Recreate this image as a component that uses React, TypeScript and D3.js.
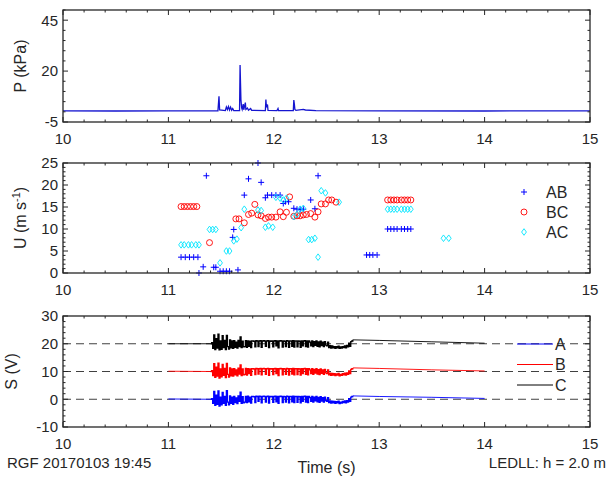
import { useEffect, useRef } from 'react';
import * as d3 from 'd3';

const W = 613;
const H = 480;
const FONT = '"Liberation Sans", Arial, sans-serif';

// pressure trace, [time s, kPa]
const pressure: [number, number][] = [
  [10.0, 0.5], [10.5, 0.4], [11.0, 0.5], [11.47, 0.5], [11.48, 7.6], [11.486, 0.9],
  [11.54, 0.6], [11.55, 2.4], [11.56, 1.1], [11.57, 2.6], [11.58, 0.9], [11.59, 2.3],
  [11.6, 0.8], [11.61, 1.6], [11.62, 0.6], [11.675, 0.6], [11.68, 23.0], [11.684, 14.5],
  [11.688, 6.0], [11.695, 2.0], [11.7, 1.2], [11.71, 3.8], [11.715, 1.0], [11.73, 4.5],
  [11.735, 1.2], [11.75, 1.9], [11.76, 0.8], [11.78, 1.6], [11.79, 0.7], [11.92, 0.6],
  [11.925, 6.0], [11.93, 2.2], [11.94, 3.6], [11.945, 0.7], [12.03, 0.6], [12.04, 1.6],
  [12.045, 0.6], [12.185, 0.6], [12.19, 5.8], [12.195, 3.8], [12.2, 1.2], [12.21, 0.7],
  [12.28, 1.2], [12.3, 0.9], [12.4, 0.6], [13.0, 0.5], [14.0, 0.4], [15.0, 0.5],
];

// propagation speeds, [time s, m/s]
const speedAB: [number, number][] = [
  [11.12, 3.6], [11.16, 3.6], [11.2, 3.6], [11.24, 3.6], [11.28, 3.6], [11.29, 0.0],
  [11.33, 1.4], [11.36, 22.1], [11.43, 1.3], [11.45, 1.3], [11.49, 0.4], [11.52, 0.4],
  [11.55, 0.4], [11.58, 0.4], [11.61, 8.1], [11.62, 9.9], [11.66, 0.7], [11.72, 17.7],
  [11.76, 21.4], [11.85, 25.0], [11.88, 20.6], [11.92, 17.1], [11.94, 17.7], [11.98, 17.7],
  [12.02, 17.7], [12.06, 17.7], [12.09, 15.8], [12.11, 16.2], [12.14, 16.2], [12.19, 14.7],
  [12.22, 14.5], [12.25, 14.5], [12.28, 14.5], [12.35, 16.6], [12.39, 14.6], [12.42, 22.1],
  [12.88, 4.1], [12.91, 4.1], [12.94, 4.1], [12.98, 4.1], [13.08, 10.0], [13.11, 10.0],
  [13.14, 10.0], [13.17, 10.0], [13.21, 10.0], [13.24, 10.0], [13.27, 10.0], [13.3, 10.0],
];

const speedBC: [number, number][] = [
  [11.12, 15.1], [11.15, 15.1], [11.18, 15.1], [11.21, 15.1], [11.24, 15.1], [11.27, 15.1],
  [11.39, 6.9], [11.64, 12.3], [11.67, 12.3], [11.72, 11.4], [11.76, 13.3], [11.79, 13.6],
  [11.82, 15.6], [11.85, 13.2], [11.88, 13.0], [11.92, 12.4], [11.95, 12.7], [11.98, 12.7],
  [12.02, 12.7], [12.06, 13.9], [12.09, 12.8], [12.12, 13.8], [12.15, 17.3], [12.19, 12.9],
  [12.22, 13.0], [12.25, 13.0], [12.28, 13.2], [12.31, 13.3], [12.35, 13.5], [12.39, 12.7],
  [12.42, 13.9], [12.45, 15.7], [12.49, 15.7], [12.52, 16.6], [12.55, 16.6], [12.59, 16.1],
  [13.08, 16.6], [13.11, 16.6], [13.14, 16.6], [13.17, 16.6], [13.21, 16.6], [13.24, 16.6],
  [13.27, 16.6], [13.3, 16.6],
];

const speedAC: [number, number][] = [
  [11.12, 6.4], [11.15, 6.4], [11.19, 6.4], [11.22, 6.4], [11.26, 6.4], [11.29, 6.4],
  [11.39, 9.9], [11.42, 9.9], [11.45, 9.9], [11.49, 2.3], [11.55, 5.0], [11.58, 5.0],
  [11.62, 7.3], [11.65, 7.7], [11.69, 10.3], [11.72, 14.5], [11.85, 14.3], [11.88, 14.2],
  [11.92, 10.4], [11.95, 10.7], [11.99, 10.4], [12.02, 17.2], [12.06, 17.0], [12.09, 16.6],
  [12.12, 17.0], [12.19, 12.8], [12.22, 13.3], [12.25, 14.5], [12.28, 14.7], [12.33, 7.6],
  [12.36, 7.6], [12.39, 7.9], [12.42, 3.6], [12.45, 18.7], [12.49, 18.2], [12.62, 16.1],
  [13.08, 14.5], [13.11, 14.5], [13.14, 14.5], [13.17, 14.5], [13.21, 14.5], [13.24, 14.5],
  [13.27, 14.5], [13.3, 14.5], [13.61, 7.9], [13.66, 7.9],
];

// sensor voltages: quiet lead-in, burst sampled every 10 ms from 11.40 s, slow tail
const burstStart = 11.4;
const burstStep = 0.01;

const leadA: [number, number][] = [[11.0, 0.1]];
const burstA = [
  0, 0.2, -1.5, 2.8, -2.2, 1.5, -1.8, 3.0, -2.5, 0.8,
  -2.0, 2.5, -1.5, 1.0, -2.2, 3.1, -1.0, -2.0, 1.2, -1.5,
  0.8, -1.8, 1.0, -1.2, 0.5, -1.6, 1.2, -0.8, 2.6, -1.5,
  0.9, -1.3, -1.0, 1.0, -1.2, 1.1, -0.9, 0.8, -1.4, 1.0,
  1.0, 0.9, -1.2, 1.1, 1.0, -0.8, 1.1, 1.0, -1.3, 1.0,
  1.1, 1.0, -1.0, 1.0, 1.1, -1.4, 1.0, 0.9, 1.0, -1.1,
  1.0, 1.1, -0.9, 1.0, -1.5, 1.0, 1.1, 1.0, -1.2, 1.0,
  0.9, -1.0, 1.1, 1.0, -1.3, 1.0, 1.0, -0.9, 1.1, -1.2,
  1.0, 1.0, -1.1, 1.0, 0.9, -1.3, 1.0, -0.8, 1.0, 1.1,
  -1.0, 1.0, -1.2, 1.0, 0.6, -0.8, 1.0, -1.0, 0.8, -0.6,
  1.0, -0.9, 0.7, -1.1, 0.9, -0.7, 0.6, -1.0, 0.8, -0.5,
  -0.8, 0.6, -1.2, -0.6, -1.4, -0.7, -1.3, -0.8, -1.5, -0.9,
  -1.3, -0.7, -1.6, -1.0, -1.4, -0.8, -1.2, -0.6, -1.3, -0.5,
  -1.0, 0.2, -0.8, 0.8, 1.0, 1.3,
];
const tailA: [number, number][] = [[12.76, 1.2], [13.0, 1.0], [13.5, 0.7], [14.0, 0.3]];

const leadB: [number, number][] = [[11.0, 10.1]];
const burstB = [
  10.0, 10.3, 8.5, 12.8, 7.9, 11.6, 8.3, 13.0, 7.6, 10.9,
  8.1, 12.6, 8.6, 11.1, 7.8, 12.9, 9.0, 8.0, 11.3, 8.4,
  10.9, 8.3, 11.0, 8.8, 10.6, 8.4, 11.2, 9.1, 12.4, 8.5,
  10.9, 8.8, 9.0, 11.1, 8.7, 11.0, 9.2, 10.9, 8.6, 11.0,
  11.0, 10.9, 8.9, 11.1, 11.0, 9.1, 11.0, 11.1, 8.8, 11.0,
  11.1, 11.0, 9.0, 11.0, 11.1, 8.6, 11.0, 10.9, 11.0, 8.9,
  11.0, 11.1, 9.2, 11.0, 8.5, 11.0, 11.1, 11.0, 8.8, 11.0,
  10.9, 9.0, 11.1, 11.0, 8.7, 11.0, 11.0, 9.1, 11.1, 8.8,
  11.0, 11.0, 8.9, 11.0, 10.9, 8.7, 11.0, 9.2, 11.0, 11.1,
  9.0, 11.0, 8.8, 11.0, 10.6, 9.2, 11.0, 9.0, 10.8, 9.4,
  11.0, 9.1, 10.7, 8.9, 10.9, 9.3, 10.6, 9.0, 10.8, 9.5,
  9.2, 10.6, 8.8, 9.4, 8.6, 9.3, 8.7, 9.2, 8.5, 9.1,
  8.7, 9.3, 8.4, 9.0, 8.6, 9.2, 8.8, 9.4, 8.7, 9.5,
  9.0, 10.2, 9.2, 10.8, 11.0, 11.3,
];
const tailB: [number, number][] = [[12.76, 11.3], [13.0, 11.1], [13.5, 10.6], [14.0, 10.2]];

const leadC: [number, number][] = [[11.0, 20.0]];
const burstC = [
  20.0, 20.4, 18.3, 23.2, 17.9, 21.8, 18.4, 23.5, 17.8, 21.0,
  18.0, 22.9, 18.6, 21.2, 17.9, 23.0, 19.0, 18.1, 21.4, 18.5,
  21.0, 18.3, 21.1, 18.7, 20.6, 18.4, 21.2, 19.0, 22.5, 18.6,
  20.9, 18.9, 19.0, 21.1, 18.7, 21.0, 19.1, 20.9, 18.6, 21.0,
  21.0, 20.9, 18.9, 21.1, 21.0, 19.0, 21.0, 21.1, 18.7, 21.0,
  21.1, 21.0, 19.1, 21.0, 21.1, 18.6, 21.0, 20.9, 21.0, 18.9,
  21.0, 21.1, 19.2, 21.0, 18.5, 21.0, 21.1, 21.0, 18.8, 21.0,
  20.9, 19.0, 21.1, 21.0, 18.7, 21.0, 21.0, 19.1, 21.1, 18.8,
  21.0, 21.0, 18.9, 21.0, 20.9, 18.7, 21.0, 19.2, 21.0, 21.1,
  19.0, 21.0, 18.8, 21.0, 20.6, 19.2, 21.0, 19.0, 20.8, 19.4,
  21.0, 19.1, 20.7, 18.9, 20.9, 19.3, 20.6, 19.0, 20.8, 19.5,
  19.2, 20.6, 18.6, 19.3, 18.4, 19.2, 18.5, 19.0, 18.3, 19.0,
  18.5, 19.1, 18.3, 18.9, 18.4, 19.0, 18.6, 19.2, 18.5, 19.4,
  18.9, 20.2, 19.1, 20.8, 21.0, 21.4,
];
const tailC: [number, number][] = [[12.76, 21.4], [13.0, 21.2], [13.5, 20.7], [14.0, 20.2]];

const timeTicks = [10, 11, 12, 13, 14, 15];
const pTicks = [-5, 20, 45];
const uTicks = [0, 5, 10, 15, 20, 25];
const sTicks = [-10, 0, 10, 20, 30];
const sRefLevels = [0, 10, 20];

const X0 = 63;
const X1 = 590;

function burstPoints(burst: number[]) {
  return burst.map((v, i) => [burstStart + i * burstStep, v] as [number, number]);
}

function drawFrame(g: any, x: any, y: any, yTicks: number[], yMinorStep: number) {
  const [yb, yt] = y.range();
  const [ymin, ymax] = y.domain();
  const axisColor = '#262626';

  // x ticks, minor every 0.2 s, on top and bottom
  for (let i = 0; i <= 25; i++) {
    const t = 10 + i * 0.2;
    const len = i % 5 === 0 ? 5 : 2.5;
    g.append('line').attr('x1', x(t)).attr('x2', x(t)).attr('y1', yb).attr('y2', yb - len)
      .attr('stroke', axisColor).attr('stroke-width', 1);
    g.append('line').attr('x1', x(t)).attr('x2', x(t)).attr('y1', yt).attr('y2', yt + len)
      .attr('stroke', axisColor).attr('stroke-width', 1);
  }
  // y ticks, left and right
  const nMinor = Math.round((ymax - ymin) / yMinorStep);
  for (let i = 0; i <= nMinor; i++) {
    const v = ymin + i * yMinorStep;
    const major = yTicks.some((t) => Math.abs(t - v) < 1e-6);
    const len = major ? 5 : 2.5;
    g.append('line').attr('x1', X0).attr('x2', X0 + len).attr('y1', y(v)).attr('y2', y(v))
      .attr('stroke', axisColor).attr('stroke-width', 1);
    g.append('line').attr('x1', X1).attr('x2', X1 - len).attr('y1', y(v)).attr('y2', y(v))
      .attr('stroke', axisColor).attr('stroke-width', 1);
  }

  g.append('rect').attr('x', X0).attr('y', yt).attr('width', X1 - X0).attr('height', yb - yt)
    .attr('fill', 'none').attr('stroke', axisColor).attr('stroke-width', 1.3);

  g.selectAll(null).data(timeTicks).enter().append('text')
    .attr('x', (d: number) => x(d)).attr('y', yb + 22)
    .attr('text-anchor', 'middle').attr('font-size', 15).attr('fill', '#262626')
    .text((d: number) => d);

  g.selectAll(null).data(yTicks).enter().append('text')
    .attr('x', X0 - 5).attr('y', (d: number) => y(d)).attr('dy', '0.36em')
    .attr('text-anchor', 'end').attr('font-size', 15).attr('fill', '#262626')
    .text((d: number) => d);
}

function App() {
  const svgRef = useRef<SVGSVGElement | null>(null);

  useEffect(() => {
    document.body.style.margin = '0';
    if (!svgRef.current) return;
    const svg = d3.select(svgRef.current);
    svg.selectAll('*').remove();
    svg.attr('font-family', FONT);

    const x = d3.scaleLinear().domain([10, 15]).range([X0, X1]);

    // ---- pressure panel
    const yP = d3.scaleLinear().domain([-5, 50]).range([122, 10]);
    const gP = svg.append('g');
    gP.append('path').datum(pressure)
      .attr('d', d3.line<[number, number]>().x((d) => x(d[0])).y((d) => yP(d[1])))
      .attr('fill', 'none').attr('stroke', '#1515d0').attr('stroke-width', 1.3);
    drawFrame(gP, x, yP, pTicks, 5);
    gP.append('text').attr('transform', `translate(26,${(10 + 122) / 2}) rotate(-90)`)
      .attr('text-anchor', 'middle').attr('font-size', 16).attr('fill', '#262626')
      .text('P (kPa)');

    // ---- speed panel
    const yU = d3.scaleLinear().domain([0, 25]).range([273, 163]);
    const gU = svg.append('g');
    const plus = (g: any, px: number, py: number) => {
      g.append('path').attr('d', `M${px - 3},${py}H${px + 3}M${px},${py - 3}V${py + 3}`)
        .attr('stroke', '#0000ff').attr('stroke-width', 1).attr('fill', 'none');
    };
    const ring = (g: any, px: number, py: number) => {
      g.append('circle').attr('cx', px).attr('cy', py).attr('r', 3)
        .attr('fill', 'none').attr('stroke', '#ff0000').attr('stroke-width', 0.9);
    };
    const diamond = (g: any, px: number, py: number) => {
      g.append('path').attr('d', `M${px},${py - 3.3}L${px + 2.4},${py}L${px},${py + 3.3}L${px - 2.4},${py}Z`)
        .attr('stroke', '#00e5ff').attr('stroke-width', 0.9).attr('fill', 'none');
    };
    speedAB.forEach((d) => plus(gU, x(d[0]), yU(d[1])));
    speedBC.forEach((d) => ring(gU, x(d[0]), yU(d[1])));
    speedAC.forEach((d) => diamond(gU, x(d[0]), yU(d[1])));
    drawFrame(gU, x, yU, uTicks, 1);
    const uLabel = gU.append('text').attr('transform', `translate(26,${(163 + 273) / 2}) rotate(-90)`)
      .attr('text-anchor', 'middle').attr('font-size', 16).attr('fill', '#262626');
    uLabel.append('tspan').text('U (m s');
    uLabel.append('tspan').attr('font-size', 11).attr('dy', -6).text('-1');
    uLabel.append('tspan').attr('dy', 6).text(')');

    const legU = [
      { name: 'AB', draw: plus },
      { name: 'BC', draw: ring },
      { name: 'AC', draw: diamond },
    ];
    legU.forEach((item, i) => {
      const ly = 192 + i * 20;
      item.draw(gU, 524, ly);
      gU.append('text').attr('x', 546).attr('y', ly).attr('dy', '0.36em')
        .attr('font-size', 16).attr('fill', '#262626').text(item.name);
    });

    // ---- sensor panel
    const yS = d3.scaleLinear().domain([-10, 30]).range([427, 316]);
    const gS = svg.append('g');
    gS.selectAll(null).data(sRefLevels).enter().append('line')
      .attr('x1', X0).attr('x2', X1).attr('y1', (d) => yS(d)).attr('y2', (d) => yS(d))
      .attr('stroke', '#404040').attr('stroke-width', 1).attr('stroke-dasharray', '8,5');
    const sLine = d3.line<[number, number]>().x((d) => x(d[0])).y((d) => yS(d[1]));
    const sStep = d3.line<[number, number]>().x((d) => x(d[0])).y((d) => yS(d[1])).curve(d3.curveStepAfter);
    const traces = [
      { name: 'A', color: '#0000ff', lead: leadA, burst: burstA, tail: tailA },
      { name: 'B', color: '#ff0000', lead: leadB, burst: burstB, tail: tailB },
      { name: 'C', color: '#000000', lead: leadC, burst: burstC, tail: tailC },
    ];
    traces.forEach((tr) => {
      const mid = burstPoints(tr.burst);
      gS.append('path').datum([...tr.lead, mid[0]]).attr('d', sLine)
        .attr('fill', 'none').attr('stroke', tr.color).attr('stroke-width', 0.9);
      gS.append('path').datum(mid).attr('d', sStep)
        .attr('fill', 'none').attr('stroke', tr.color).attr('stroke-width', 1.3);
      gS.append('path').datum([mid[mid.length - 1], ...tr.tail]).attr('d', sLine)
        .attr('fill', 'none').attr('stroke', tr.color).attr('stroke-width', 0.9);
    });
    drawFrame(gS, x, yS, sTicks, 2);
    gS.append('text').attr('transform', `translate(17,${(316 + 427) / 2}) rotate(-90)`)
      .attr('text-anchor', 'middle').attr('font-size', 16).attr('fill', '#262626')
      .text('S (V)');
    traces.forEach((tr, i) => {
      const ly = 344 + i * 20.5;
      gS.append('line').attr('x1', 517).attr('x2', 553).attr('y1', ly).attr('y2', ly)
        .attr('stroke', tr.color).attr('stroke-width', 1);
      gS.append('text').attr('x', 555).attr('y', ly).attr('dy', '0.36em')
        .attr('font-size', 16).attr('fill', '#262626').text(tr.name);
    });

    // ---- footer texts
    svg.append('text').attr('x', 7).attr('y', 468).attr('font-size', 15).attr('fill', '#262626')
      .text('RGF 20170103 19:45');
    svg.append('text').attr('x', (X0 + X1) / 2).attr('y', 473).attr('text-anchor', 'middle')
      .attr('font-size', 16).attr('fill', '#262626').text('Time (s)');
    svg.append('text').attr('x', 606).attr('y', 468).attr('text-anchor', 'end')
      .attr('font-size', 15).attr('fill', '#262626').text('LEDLL: h = 2.0 m');

    return () => {
      d3.select(svgRef.current).selectAll('*').remove();
    };
  }, []);

  return <svg ref={svgRef} width={W} height={H} style={{ display: 'block', background: '#fff' }}></svg>;
}

export default App;
